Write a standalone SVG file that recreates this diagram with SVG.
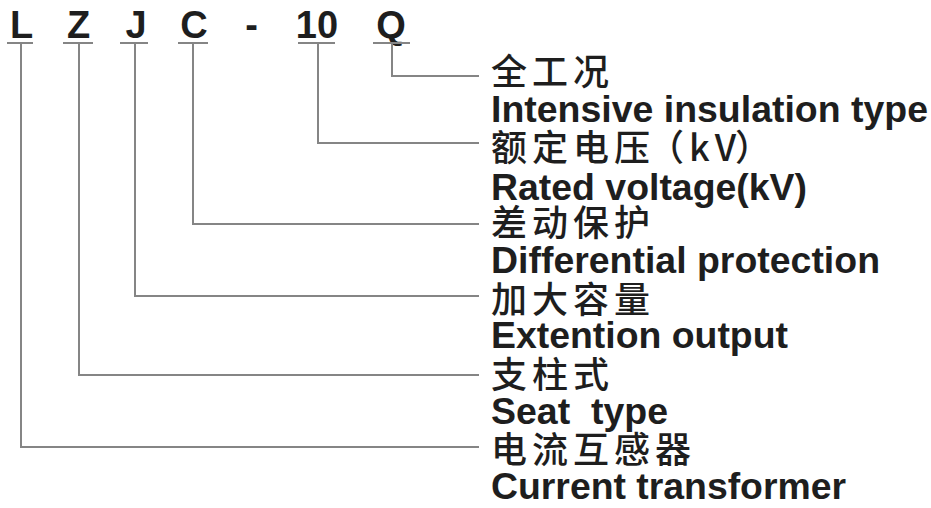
<svg xmlns="http://www.w3.org/2000/svg" width="931" height="508" viewBox="0 0 931 508">
<style>
.code{font-family:"Liberation Sans",Arial,sans-serif;font-weight:bold;font-size:38px;fill:#1e1e1e;text-anchor:middle}
.en{font-family:"Liberation Sans",Arial,sans-serif;font-weight:bold;font-size:36px;fill:#1e1e1e}
.cn{font-family:"Noto Sans CJK SC","Noto Sans",sans-serif;font-weight:500;font-size:36px;fill:#1e1e1e;letter-spacing:5px}
.ul{stroke:#858585;stroke-width:2;fill:none}
.conn path{stroke:#858585;stroke-width:2;fill:none}
</style>
<rect width="931" height="508" fill="#ffffff"/>
<g id="code">
  <g id="code-L"><text class="code" x="21.5" y="38">L</text><line class="ul" x1="7" y1="43" x2="33" y2="43"/></g>
  <g id="code-Z"><text class="code" x="78.5" y="38">Z</text><line class="ul" x1="63" y1="43" x2="93" y2="43"/></g>
  <g id="code-J"><text class="code" x="136" y="38">J</text><line class="ul" x1="120" y1="43" x2="148" y2="43"/></g>
  <g id="code-C"><text class="code" x="194" y="38">C</text><line class="ul" x1="178" y1="43" x2="208" y2="43"/></g>
  <g id="code-dash"><text class="code" x="251.5" y="38">-</text></g>
  <g id="code-10"><text class="code" x="317" y="38">10</text><line class="ul" x1="298" y1="43" x2="335" y2="43"/></g>
  <g id="code-Q"><text class="code" x="391" y="38">Q</text><line class="ul" x1="373" y1="43" x2="410" y2="43"/></g>
</g>
<g id="connectors" class="conn">
  <path d="M392 43 V76 H479"/>
  <path d="M318 43 V143 H479"/>
  <path d="M193 43 V224 H479"/>
  <path d="M135 43 V296 H479"/>
  <path d="M79 43 V375 H479"/>
  <path d="M21 43 V447 H479"/>
</g>
<g id="label-Q">
  <text class="cn" x="491" y="85">全工况</text>
  <text class="en" x="491" y="122" textLength="437" lengthAdjust="spacingAndGlyphs">Intensive insulation type</text>
</g>
<g id="label-10">
  <text class="cn" y="161" letter-spacing="0"><tspan x="491 532 573 614">额定电压</tspan><tspan x="648">（</tspan><tspan x="689">kV</tspan><tspan x="735">）</tspan></text>
  <text class="en" x="491" y="200" textLength="316" lengthAdjust="spacingAndGlyphs">Rated voltage(kV)</text>
</g>
<g id="label-C">
  <text class="cn" x="491" y="236">差动保护</text>
  <text class="en" x="491" y="273" textLength="389" lengthAdjust="spacingAndGlyphs">Differential protection</text>
</g>
<g id="label-J">
  <text class="cn" x="491" y="313">加大容量</text>
  <text class="en" x="491" y="348" textLength="297" lengthAdjust="spacingAndGlyphs">Extention output</text>
</g>
<g id="label-Z">
  <text class="cn" x="491" y="388">支柱式</text>
  <text class="en" x="491" y="424" xml:space="preserve" textLength="177" lengthAdjust="spacingAndGlyphs">Seat  type</text>
</g>
<g id="label-L">
  <text class="cn" x="491" y="463">电流互感器</text>
  <text class="en" x="491" y="499" textLength="355" lengthAdjust="spacingAndGlyphs">Current transformer</text>
</g>
</svg>
